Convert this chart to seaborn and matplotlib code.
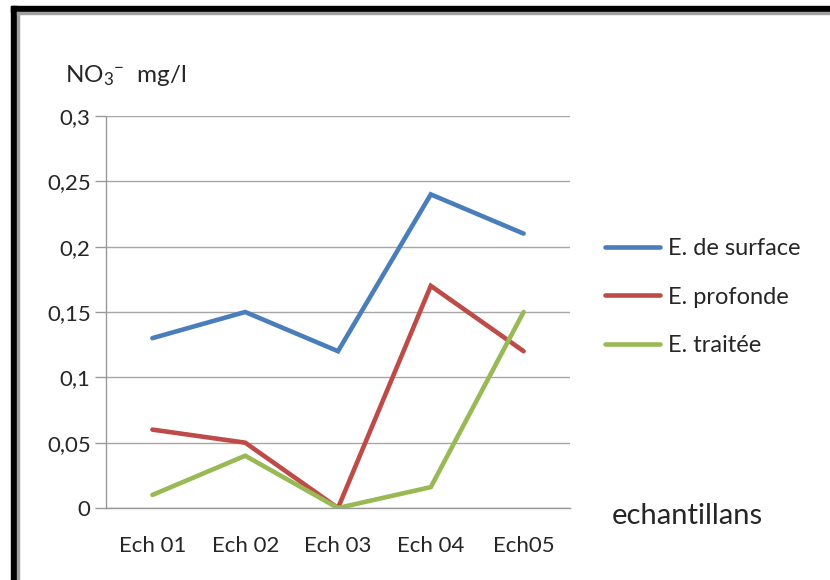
import matplotlib
matplotlib.use("Agg")
import matplotlib.pyplot as plt
import seaborn as sns
import pandas as pd
from matplotlib.patches import Rectangle

# Sample labels and nitrate concentrations (mg/l)
categories = ["Ech 01", "Ech 02", "Ech 03", "Ech 04", "Ech05"]
surface = [0.13, 0.15, 0.12, 0.24, 0.21]
profonde = [0.06, 0.05, 0.0, 0.17, 0.12]
traitee = [0.01, 0.04, 0.0, 0.016, 0.15]
series_names = ["E. de surface", "E. profonde", "E. traitée"]
y_ticks = [0, 0.05, 0.1, 0.15, 0.2, 0.25, 0.3]
y_tick_labels = ["0", "0,05", "0,1", "0,15", "0,2", "0,25", "0,3"]

df = pd.DataFrame({
    "x": list(range(len(categories))) * 3,
    "value": surface + profonde + traitee,
    "serie": sum([[n] * len(categories) for n in series_names], []),
})

sns.set_theme(style="white")
plt.rcParams["font.family"] = ["Lato", "DejaVu Sans"]
plt.rcParams["mathtext.fontset"] = "custom"
plt.rcParams["mathtext.rm"] = "Lato"
plt.rcParams["mathtext.it"] = "Lato"
plt.rcParams["mathtext.bf"] = "Lato"

text_color = "#262626"
fig = plt.figure(figsize=(8.3, 5.8), dpi=100)
ax = fig.add_axes([106 / 830, 1 - 508 / 580, (570 - 106) / 830, (508 - 116) / 580])

palette = {"E. de surface": "#4A7EBB", "E. profonde": "#BE4B48", "E. traitée": "#98B954"}
sns.lineplot(data=df, x="x", y="value", hue="serie", palette=palette,
             linewidth=3.3, ax=ax, legend=False, solid_capstyle="round",
             solid_joinstyle="miter")

ax.set_xlim(-0.5, len(categories) - 0.5)
ax.set_ylim(0, 0.3)
ax.set_yticks(y_ticks)
ax.set_yticklabels(y_tick_labels, fontsize=16, color=text_color)
ax.set_xticks(range(len(categories)))
ax.set_xticklabels(categories, fontsize=16, color=text_color)
ax.set_xticks([i - 0.5 for i in range(len(categories) + 1)], minor=True)
ax.tick_params(axis="x", which="major", length=0, pad=20)
ax.tick_params(axis="x", which="minor", length=7, width=1, color="#999999", direction="out")
ax.tick_params(axis="y", length=8, width=1, color="#999999", direction="out", pad=3, left=True)
ax.set_xlabel("")
ax.set_ylabel("")

ax.yaxis.grid(True, color="#a6a6a6", linewidth=1)
ax.xaxis.grid(False)
for side in ["top", "right"]:
    ax.spines[side].set_visible(False)
for side in ["left", "bottom"]:
    ax.spines[side].set_color("#999999")
    ax.spines[side].set_linewidth(1)
ax.set_axisbelow(True)

# Legend drawn to the right of the plot area
handles = [plt.Line2D([], [], color=palette[n], linewidth=3.3, solid_capstyle="round")
           for n in series_names]
fig.legend(handles, series_names, loc="center left",
           bbox_to_anchor=(584 / 830, 1 - 297 / 580), frameon=False,
           fontsize=17, handlelength=2.3, handletextpad=0.34, labelspacing=1.17,
           labelcolor=text_color)

fig.text(65 / 830, 1 - 76 / 580, r"NO$_3$$^{-}$  mg/l", fontsize=17.5,
         color=text_color, va="center", ha="left")
fig.text(612 / 830, 1 - 516 / 580, "echantillans", fontsize=21,
         color=text_color, va="center", ha="left")

# Window-style frame: black border on top and left with a thin grey inner edge
fig.patches.append(Rectangle((11 / 830, 0), 6 / 830, 1 - 6 / 580,
                             transform=fig.transFigure, color="black", zorder=5))
fig.patches.append(Rectangle((11 / 830, 1 - 12 / 580), 1, 6 / 580,
                             transform=fig.transFigure, color="black", zorder=5))
fig.patches.append(Rectangle((17 / 830, 0), 2 / 830, 1 - 12 / 580,
                             transform=fig.transFigure, color="#a0a0a0", zorder=5))
fig.patches.append(Rectangle((17 / 830, 1 - 14 / 580), 1, 2 / 580,
                             transform=fig.transFigure, color="#a0a0a0", zorder=5))

fig.savefig("out.png", dpi=100)
